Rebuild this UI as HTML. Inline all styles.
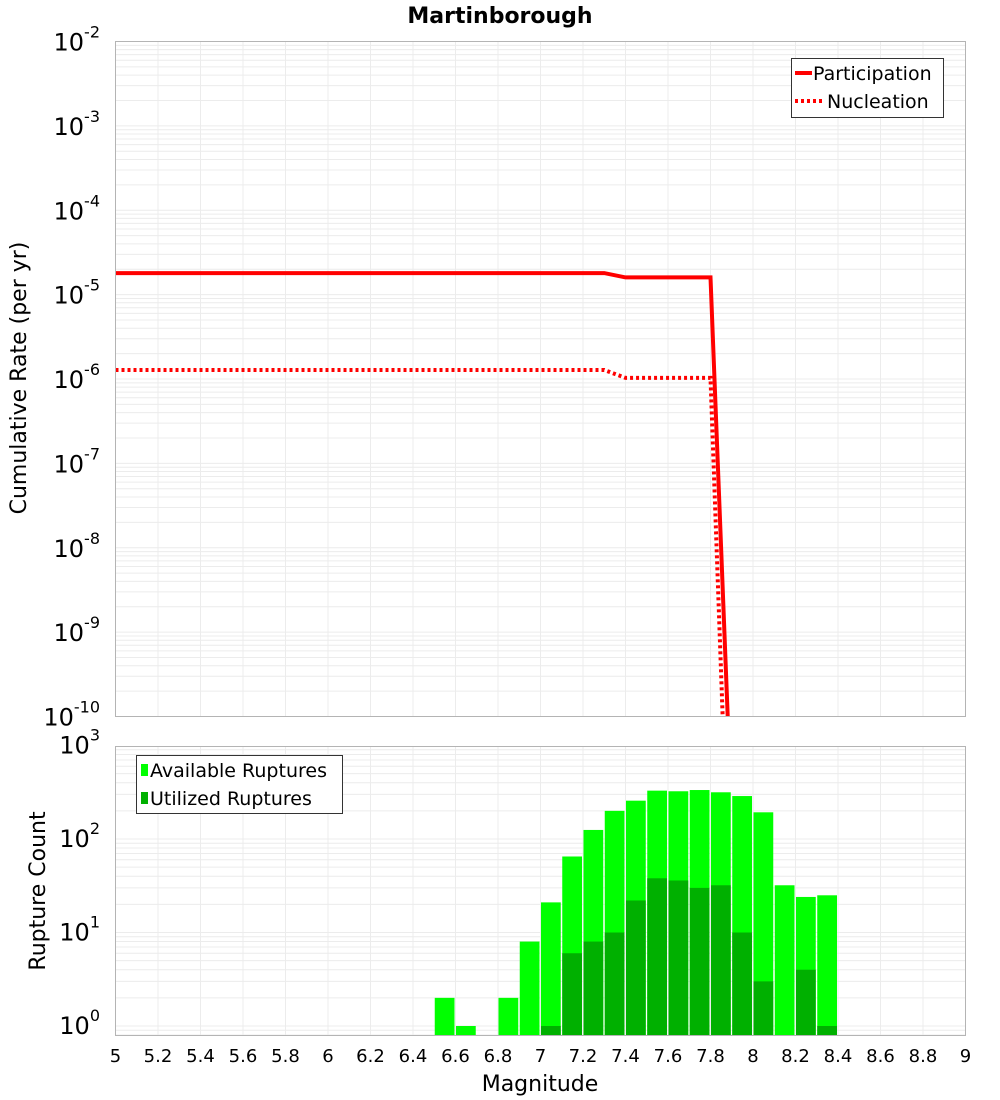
<!DOCTYPE html>
<html><head><meta charset="utf-8"><style>
body{margin:0;background:#fff;}
svg{display:block;font-family:"DejaVu Sans","Liberation Sans",sans-serif;}
</style></head><body>
<svg id="chart" width="1000" height="1100" xmlns="http://www.w3.org/2000/svg">
<text x="500" y="23" text-anchor="middle" font-size="22" font-weight="bold">Martinborough</text>
<g id="topg"></g><g id="botg"></g>
<text transform="translate(26,378) rotate(-90)" text-anchor="middle" font-size="22">Cumulative Rate (per yr)</text>
<text transform="translate(45,891) rotate(-90)" text-anchor="middle" font-size="22">Rupture Count</text>
<text x="540" y="1091" text-anchor="middle" font-size="22">Magnitude</text>
</svg>
<script>
const lineMags=[5.0,7.3,7.4,7.8,7.9];
const participation=[1.8e-5,1.8e-5,1.6e-5,1.6e-5,6e-12];
const nucleation=[1.28e-6,1.28e-6,1.03e-6,1.03e-6,1e-13];
const binCenters=[6.55,6.65,6.85,6.95,7.05,7.15,7.25,7.35,7.45,7.55,7.65,7.75,7.85,7.95,8.05,8.15,8.25,8.35];
const available=[2,1,2,8,21,65,125,200,257,329,324,334,316,288,193,32,24,25];
const utilized=[0,0,0,0,1,6,8,10,22,38,36,30,32,10,3,0,4,1];
const xTicks=[5,5.2,5.4,5.6,5.8,6,6.2,6.4,6.6,6.8,7,7.2,7.4,7.6,7.8,8,8.2,8.4,8.6,8.8,9];
const topExps=[-2,-3,-4,-5,-6,-7,-8,-9,-10];
const botExps=[3,2,1,0];
const NS="http://www.w3.org/2000/svg";
const X0=115.5,X1=965.5;
const xs=m=>X0+(m-5)/4*(X1-X0);
const T0=41.5,T1=716.5;
const yt=v=>T0+(-2-Math.log10(v))/8*(T1-T0);
const B0=746.5,B1=1035.5;
const yb=v=>1026-Math.log10(v)*93.5;
function el(p,tag,a,txt){const e=document.createElementNS(NS,tag);for(const k in a)e.setAttribute(k,a[k]);if(txt!=null)e.textContent=txt;p.appendChild(e);return e;}
const topG=document.getElementById('topg'),botG=document.getElementById('botg');
function grid(g,y0,y1,yf,dmin,dmax){
 for(let d=dmin;d<dmax;d++)for(let k=1;k<10;k++){const y=yf(k*Math.pow(10,d));if(y<y0||y>y1)continue;
  const l=el(g,'line',{x1:X0,x2:X1,y1:y,y2:y,stroke:'#ececec','stroke-width':1});
  
  }
 xTicks.forEach(t=>{const l=el(g,'line',{x1:xs(t),x2:xs(t),y1:y0,y2:y1,stroke:'#ececec','stroke-width':1});
  
  });
}
grid(topG,T0,T1,yt,-10,-1);
grid(botG,B0,B1,yb,-1,3);
topExps.forEach(e=>{const y=yt(Math.pow(10,e));const t=el(topG,'text',{x:100,y:y+9,'text-anchor':'end','font-size':24});
 
 
 t.textContent='10';el(t,'tspan',{dy:-13,'font-size':16},String(e));});
botExps.forEach(e=>{const y=yb(Math.pow(10,e));const t=el(botG,'text',{x:100,y:y+8,'text-anchor':'end','font-size':24});
 
 
 t.textContent='10';el(t,'tspan',{dy:-13,'font-size':16},String(e));});
xTicks.forEach(v=>{const t=el(botG,'text',{x:xs(v),y:1062,'text-anchor':'middle','font-size':18},String(+v.toFixed(1)));
 
 });
const defs=el(document.getElementById('chart'),'defs',{});
const cp=el(defs,'clipPath',{id:'ct'});el(cp,'rect',{x:X0,y:T0,width:X1-X0,height:T1-T0});
function series(vals,dash,name){const pts=lineMags.map((m,i)=>xs(m)+','+yt(vals[i])).join(' ');
 const a={points:pts,fill:'none',stroke:'#ff0000','stroke-width':4,'clip-path':'url(#ct)'};if(dash)a['stroke-dasharray']='3,3';
 const p=el(topG,'polyline',a);
 
 }
series(participation,false,'participation-line');
series(nucleation,true,'nucleation-line');
el(topG,'rect',{x:X0,y:T0,width:X1-X0,height:T1-T0,fill:'none',stroke:'#b4b4b4'});
binCenters.forEach((c,i)=>{const x=xs(c-0.05)+0.5,w=xs(c+0.05)-xs(c-0.05)-1.5;
 if(available[i]>0){const y=Math.max(yb(available[i]),B0);const r=el(botG,'rect',{x:x,y:y,width:w,height:B1-y,fill:'#00ff00'});
  
  }
 if(utilized[i]>0){const y=yb(utilized[i]);const r=el(botG,'rect',{x:x,y:y,width:w,height:B1-y,fill:'#00b000'});
  
  }
});
el(botG,'rect',{x:X0,y:B0,width:X1-X0,height:B1-B0,fill:'none',stroke:'#b4b4b4'});
</script>
<svg style="position:absolute;left:0;top:0" width="1000" height="1100" xmlns="http://www.w3.org/2000/svg" font-family="DejaVu Sans, Liberation Sans, sans-serif">
<g>
<rect x="791.5" y="58.5" width="152" height="59" fill="#fff" stroke="#333"/>
<line x1="795" y1="73" x2="812" y2="73" stroke="#ff0000" stroke-width="4"/>
<text x="813" y="80" font-size="19">Participation</text>
<line x1="795" y1="101" x2="822" y2="101" stroke="#ff0000" stroke-width="4" stroke-dasharray="3,3"/>
<text x="827" y="108" font-size="19">Nucleation</text>
</g>
<g>
<rect x="136.5" y="755.5" width="206" height="58" fill="#fff" stroke="#333"/>
<rect x="141" y="764" width="7" height="12" fill="#00ff00"/>
<text x="150" y="777" font-size="19">Available Ruptures</text>
<rect x="141" y="792" width="7" height="12" fill="#00b000"/>
<text x="150" y="805" font-size="19">Utilized Ruptures</text>
</g>
</svg>
</body></html>
